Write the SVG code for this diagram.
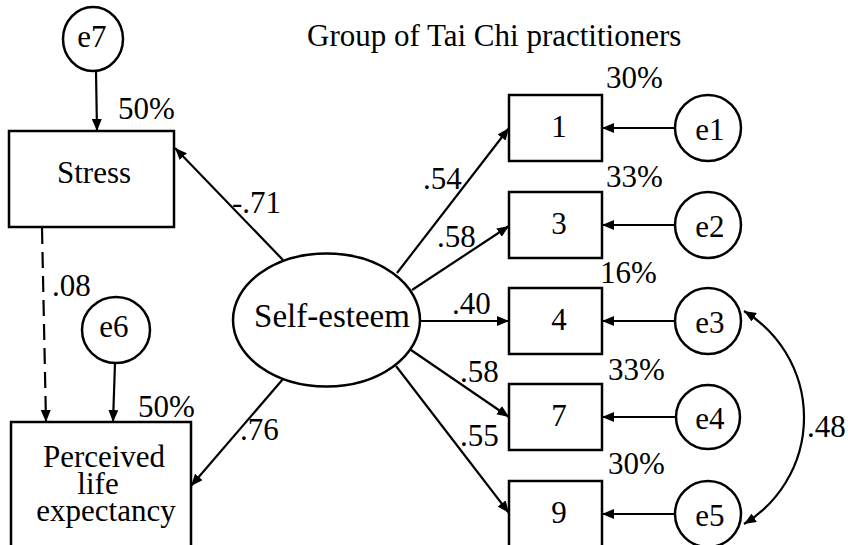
<svg xmlns="http://www.w3.org/2000/svg" width="848" height="545" viewBox="0 0 848 545">
  <style>
    text { font-family: "Liberation Serif", "Times New Roman", "DejaVu Serif", serif; font-size: 31px; fill: #000; }
    .mid { text-anchor: middle; }
    .shape { fill: #fff; stroke: #000; stroke-width: 2.5; }
    .path { fill: none; stroke: #000; stroke-width: 2.2; marker-end: url(#head); }
    .dash { stroke-dasharray: 16 8; }
  </style>
  <defs>
    <marker id="head" viewBox="0 0 12 10" refX="12" refY="5" markerWidth="12" markerHeight="10" markerUnits="userSpaceOnUse" orient="auto-start-reverse">
      <path d="M0,0 L12,5 L0,10 z" fill="#000"/>
    </marker>
  </defs>
  <rect width="848" height="545" fill="#fff"/>

  <text x="307" y="46">Group of Tai Chi practitioners</text>

  <!-- paths between variables -->
  <g id="connectors">
    <line class="path" x1="96" y1="71" x2="97" y2="131"/>
    <line class="path" x1="115" y1="363" x2="113" y2="422"/>
    <line class="path dash" x1="42" y1="228" x2="46" y2="422"/>
    <line class="path" x1="283" y1="260" x2="175" y2="148"/>
    <line class="path" x1="283" y1="379" x2="191" y2="486"/>
    <line class="path" x1="397" y1="273" x2="509" y2="128"/>
    <line class="path" x1="412" y1="290" x2="509" y2="226"/>
    <line class="path" x1="420" y1="321" x2="509" y2="321"/>
    <line class="path" x1="411" y1="350" x2="509" y2="417"/>
    <line class="path" x1="396" y1="366" x2="509" y2="513"/>
    <line class="path" x1="675" y1="128" x2="602" y2="128"/>
    <line class="path" x1="675" y1="225" x2="602" y2="225"/>
    <line class="path" x1="675" y1="321" x2="602" y2="321"/>
    <line class="path" x1="675" y1="417" x2="602" y2="417"/>
    <line class="path" x1="675" y1="514" x2="602" y2="514"/>
    <path class="path" style="marker-start:url(#head)" d="M744,311 A124.5,124.5 0 0 1 744,524"/>
  </g>

  <!-- coefficients and explained variance -->
  <g id="labels">
    <text x="118" y="119">50%</text>
    <text x="232" y="213">-.71</text>
    <text x="52" y="296">.08</text>
    <text x="138" y="417">50%</text>
    <text x="240" y="440">.76</text>
    <text x="423" y="189">.54</text>
    <text x="437" y="247">.58</text>
    <text x="452" y="314">.40</text>
    <text x="460" y="382">.58</text>
    <text x="460" y="446">.55</text>
    <text x="606" y="88">30%</text>
    <text x="606" y="187">33%</text>
    <text x="600" y="283">16%</text>
    <text x="608" y="380">33%</text>
    <text x="608" y="474">30%</text>
    <text x="807" y="437">.48</text>
  </g>

  <g id="e7">
    <ellipse class="shape" cx="93" cy="39" rx="30" ry="32"/>
    <text class="mid" x="92" y="47">e7</text>
  </g>
  <g id="stress">
    <rect class="shape" x="9" y="131" width="165" height="96"/>
    <text x="57" y="183">Stress</text>
  </g>
  <g id="e6">
    <ellipse class="shape" cx="116" cy="330" rx="34" ry="33"/>
    <text class="mid" x="114" y="337">e6</text>
  </g>
  <g id="life-expectancy">
    <rect class="shape" x="11" y="422" width="180" height="140"/>
    <text class="mid" x="104" y="467">Perceived</text>
    <text class="mid" x="98" y="494">life</text>
    <text class="mid" x="106" y="521">expectancy</text>
  </g>
  <g id="self-esteem">
    <ellipse class="shape" cx="326.5" cy="320" rx="93.5" ry="66.5"/>
    <text class="mid" x="332" y="327" style="font-size:33px">Self-esteem</text>
  </g>

  <g id="item1">
    <rect class="shape" x="509" y="95" width="93" height="66"/>
    <text class="mid" x="559" y="137">1</text>
  </g>
  <g id="item3">
    <rect class="shape" x="509" y="192" width="93" height="66"/>
    <text class="mid" x="559" y="234">3</text>
  </g>
  <g id="item4">
    <rect class="shape" x="509" y="288" width="93" height="66"/>
    <text class="mid" x="559" y="330">4</text>
  </g>
  <g id="item7">
    <rect class="shape" x="509" y="384" width="93" height="66"/>
    <text class="mid" x="559" y="426">7</text>
  </g>
  <g id="item9">
    <rect class="shape" x="509" y="481" width="93" height="66"/>
    <text class="mid" x="559" y="523">9</text>
  </g>

  <g id="e1">
    <circle class="shape" cx="708" cy="128" r="33"/>
    <text class="mid" x="710" y="140">e1</text>
  </g>
  <g id="e2">
    <circle class="shape" cx="708" cy="225" r="33"/>
    <text class="mid" x="710" y="237">e2</text>
  </g>
  <g id="e3">
    <circle class="shape" cx="708" cy="321" r="33"/>
    <text class="mid" x="710" y="333">e3</text>
  </g>
  <g id="e4">
    <circle class="shape" cx="708" cy="417" r="32"/>
    <text class="mid" x="710" y="429">e4</text>
  </g>
  <g id="e5">
    <circle class="shape" cx="708" cy="514" r="33"/>
    <text class="mid" x="710" y="526">e5</text>
  </g>
</svg>
